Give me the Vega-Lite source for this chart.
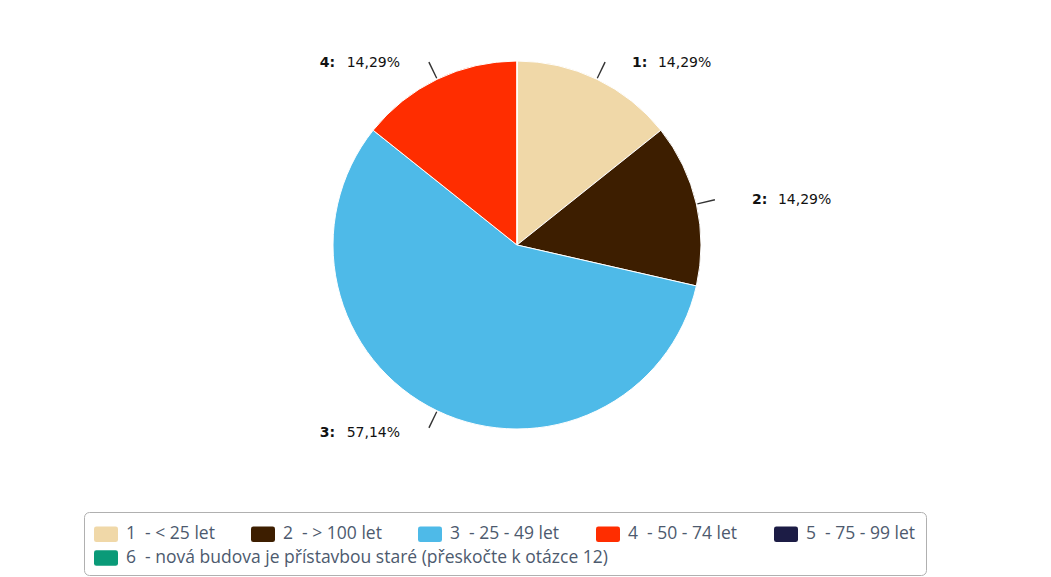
{
  "$schema": "https://vega.github.io/schema/vega-lite/v6.json",
  "width": 1034,
  "height": 490,
  "padding": {"left": 0, "top": 0, "right": 17, "bottom": 0},
  "background": "#ffffff",
  "config": {"view": {"stroke": null}},
  "data": {
    "values": [
      {"k": "1", "label": "1  - < 25 let", "value": 1, "pct": "14,29%"},
      {"k": "2", "label": "2  - > 100 let", "value": 1, "pct": "14,29%"},
      {"k": "3", "label": "3  - 25 - 49 let", "value": 4, "pct": "57,14%"},
      {"k": "4", "label": "4  - 50 - 74 let", "value": 1, "pct": "14,29%"},
      {"k": "5", "label": "5  - 75 - 99 let", "value": 0, "pct": "0,00%"},
      {"k": "6", "label": "6  - nová budova je přístavbou staré (přeskočte k otázce 12)", "value": 0, "pct": "0,00%"}
    ]
  },
  "layer": [
    {
      "transform": [{"filter": "datum.k != '6'"}],
      "mark": {"type": "arc", "outerRadius": 184, "stroke": "#ffffff", "strokeWidth": 1},
      "encoding": {
        "theta": {"field": "value", "type": "quantitative", "stack": true, "scale": {"domain": [0, 7]}},
        "order": {"field": "k", "sort": "ascending"},
        "color": {
          "field": "label",
          "type": "nominal",
          "scale": {
            "domain": ["1  - < 25 let", "2  - > 100 let", "3  - 25 - 49 let", "4  - 50 - 74 let", "5  - 75 - 99 let"],
            "range": ["#f0d8a8", "#3d1e00", "#4ebae8", "#ff2d00", "#1c1c45"]
          },
          "legend": {
            "title": " ",
            "titleOrient": "bottom",
            "titleFontSize": 14,
            "titlePadding": 8,
            "orient": "none",
            "legendX": 84,
            "legendY": 512,
            "direction": "horizontal",
            "columns": 5,
            "symbolType": "M-1,-0.45 Q-1,-0.65 -0.8,-0.65 L0.8,-0.65 Q1,-0.65 1,-0.45 L1,0.45 Q1,0.65 0.8,0.65 L-0.8,0.65 Q-1,0.65 -1,0.45 Z",
            "symbolSize": 576,
            "symbolStrokeWidth": 0,
            "symbolOpacity": 1,
            "labelFont": "Open Sans",
            "labelFontSize": 17.5,
            "labelColor": "#4d5a6e",
            "labelLimit": 0,
            "labelOffset": 8,
            "labelExpr": "replace(datum.label, '  ', '\u00a0\u00a0')",
            "columnPadding": 36,
            "rowPadding": 10,
            "padding": 10,
            "strokeColor": "#b0b0b0",
            "cornerRadius": 5
          }
        }
      }
    },
    {
      "transform": [{"filter": "datum.k == '6'"}],
      "mark": {"type": "arc", "outerRadius": 0, "opacity": 0},
      "encoding": {
        "theta": {"field": "value", "type": "quantitative"},
        "fill": {
          "field": "label",
          "type": "nominal",
          "scale": {
            "domain": ["6  - nová budova je přístavbou staré (přeskočte k otázce 12)"],
            "range": ["#0a9a78"]
          },
          "legend": {
            "title": null,
            "orient": "none",
            "legendX": 84,
            "legendY": 536,
            "direction": "horizontal",
            "symbolType": "M-1,-0.45 Q-1,-0.65 -0.8,-0.65 L0.8,-0.65 Q1,-0.65 1,-0.45 L1,0.45 Q1,0.65 0.8,0.65 L-0.8,0.65 Q-1,0.65 -1,0.45 Z",
            "symbolSize": 576,
            "symbolStrokeWidth": 0,
            "symbolOpacity": 1,
            "labelFont": "Open Sans",
            "labelFontSize": 17.5,
            "labelColor": "#4d5a6e",
            "labelLimit": 0,
            "labelOffset": 8,
            "labelExpr": "replace(datum.label, '  ', '\u00a0\u00a0')",
            "padding": 10
          }
        }
      }
    },
    {
      "transform": [
        {"stack": "value", "groupby": [], "sort": [{"field": "k", "order": "ascending"}], "as": ["s0", "s1"]},
        {"filter": "datum.value > 0"},
        {"calculate": "(datum.s0 + datum.s1) / 2 - 0.004", "as": "m0"},
        {"calculate": "(datum.s0 + datum.s1) / 2 + 0.004", "as": "m1"}
      ],
      "mark": {"type": "arc", "radius": 203, "radius2": 185, "color": "#333333"},
      "encoding": {
        "theta": {"field": "m0", "type": "quantitative"},
        "theta2": {"field": "m1"}
      }
    },
    {
      "transform": [
        {"stack": "value", "groupby": [], "sort": [{"field": "k", "order": "ascending"}], "as": ["s0", "s1"]},
        {"calculate": "(datum.s0 + datum.s1) / 2", "as": "mid"},
        {"calculate": "datum.k + ':'", "as": "kl"},
        {"filter": "datum.k == '1'"}
      ],
      "mark": {"type": "text", "radius": 205, "align": "left", "baseline": "middle", "dx": 26, "dy": 3, "font": "DejaVu Sans", "fontSize": 14, "fontWeight": "bold", "color": "#111111"},
      "encoding": {"theta": {"field": "mid", "type": "quantitative"}, "text": {"field": "kl"}}
    },
    {
      "transform": [
        {"stack": "value", "groupby": [], "sort": [{"field": "k", "order": "ascending"}], "as": ["s0", "s1"]},
        {"calculate": "(datum.s0 + datum.s1) / 2", "as": "mid"},
        {"filter": "datum.k == '1'"}
      ],
      "mark": {"type": "text", "radius": 205, "align": "left", "baseline": "middle", "dx": 52, "dy": 3, "font": "DejaVu Sans", "fontSize": 14, "color": "#111111"},
      "encoding": {"theta": {"field": "mid", "type": "quantitative"}, "text": {"field": "pct"}}
    },
    {
      "transform": [
        {"stack": "value", "groupby": [], "sort": [{"field": "k", "order": "ascending"}], "as": ["s0", "s1"]},
        {"calculate": "(datum.s0 + datum.s1) / 2", "as": "mid"},
        {"calculate": "datum.k + ':'", "as": "kl"},
        {"filter": "datum.k == '2'"}
      ],
      "mark": {"type": "text", "radius": 203, "align": "left", "baseline": "middle", "dx": 37, "font": "DejaVu Sans", "fontSize": 14, "fontWeight": "bold", "color": "#111111"},
      "encoding": {"theta": {"field": "mid", "type": "quantitative"}, "text": {"field": "kl"}}
    },
    {
      "transform": [
        {"stack": "value", "groupby": [], "sort": [{"field": "k", "order": "ascending"}], "as": ["s0", "s1"]},
        {"calculate": "(datum.s0 + datum.s1) / 2", "as": "mid"},
        {"filter": "datum.k == '2'"}
      ],
      "mark": {"type": "text", "radius": 203, "align": "left", "baseline": "middle", "dx": 63, "font": "DejaVu Sans", "fontSize": 14, "color": "#111111"},
      "encoding": {"theta": {"field": "mid", "type": "quantitative"}, "text": {"field": "pct"}}
    },
    {
      "transform": [
        {"stack": "value", "groupby": [], "sort": [{"field": "k", "order": "ascending"}], "as": ["s0", "s1"]},
        {"calculate": "(datum.s0 + datum.s1) / 2", "as": "mid"},
        {"calculate": "datum.k + ':'", "as": "kl"},
        {"filter": "datum.k == '3' || datum.k == '4'"}
      ],
      "mark": {"type": "text", "radius": 205, "align": "right", "baseline": "middle", "dx": -93, "dy": 3, "font": "DejaVu Sans", "fontSize": 14, "fontWeight": "bold", "color": "#111111"},
      "encoding": {"theta": {"field": "mid", "type": "quantitative"}, "text": {"field": "kl"}}
    },
    {
      "transform": [
        {"stack": "value", "groupby": [], "sort": [{"field": "k", "order": "ascending"}], "as": ["s0", "s1"]},
        {"calculate": "(datum.s0 + datum.s1) / 2", "as": "mid"},
        {"filter": "datum.k == '3' || datum.k == '4'"}
      ],
      "mark": {"type": "text", "radius": 205, "align": "right", "baseline": "middle", "dx": -28, "dy": 3, "font": "DejaVu Sans", "fontSize": 14, "color": "#111111"},
      "encoding": {"theta": {"field": "mid", "type": "quantitative"}, "text": {"field": "pct"}}
    }
  ]
}
